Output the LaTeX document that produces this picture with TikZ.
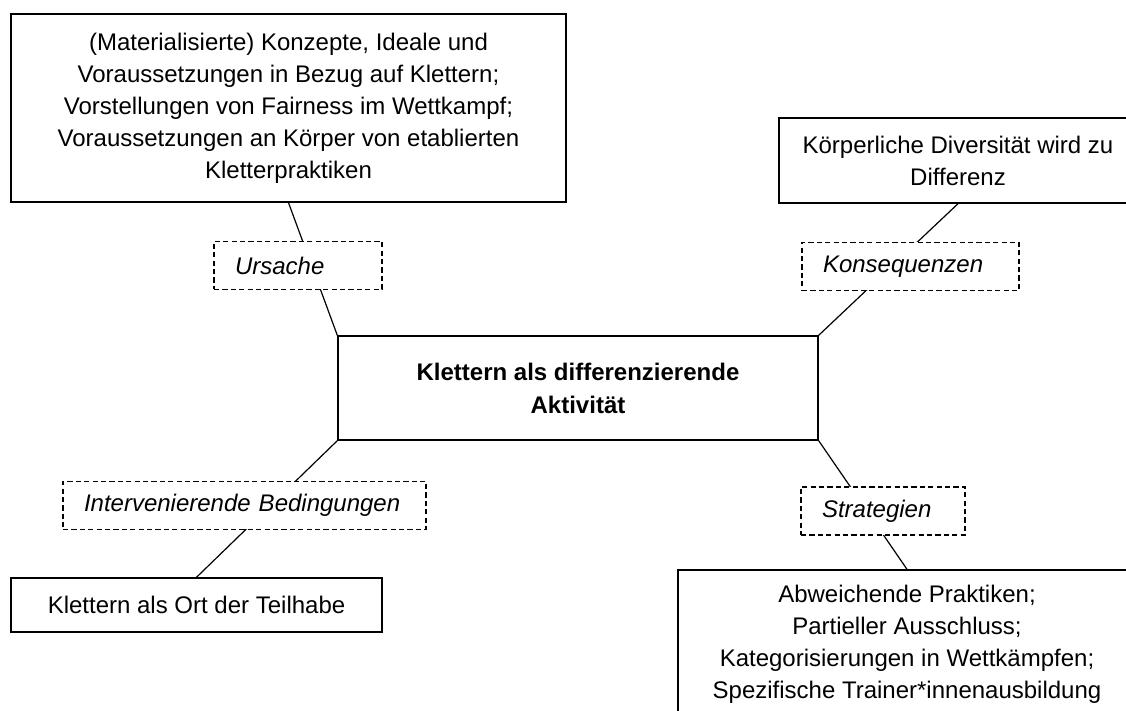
\documentclass[tikz,border=0pt]{standalone}
\usepackage{fontspec}
\setmainfont{Liberation Sans}
\usepackage{tikz}
\usetikzlibrary{positioning}

\begin{document}
\begin{tikzpicture}[
  x=0.5pt, y=-0.5pt,
  box/.style={draw, line width=0.7pt, align=center, inner sep=0pt, font=\fontsize{12}{16}\selectfont},
  core/.style={box, font=\fontsize{12}{16.5}\selectfont\bfseries},
  cat/.style={draw, dash pattern=on 2.6pt off 1.6pt, line width=0.6pt, fill=white, align=left, inner xsep=10.5pt, inner ysep=0pt, minimum height=24pt, font=\fontsize{12}{16}\selectfont\itshape},
  link/.style={line width=0.6pt}
]
\useasboundingbox (0,0) rectangle (1126,711);

\node[core, minimum width=240pt, minimum height=52pt] (act) at (578,388) {Klettern als differenzierende\\Aktivität};
\node[box, minimum width=277.5pt, minimum height=94pt] (cause) at (288.5,108) {(Materialisierte) Konzepte, Ideale und\\Voraussetzungen in Bezug auf Klettern;\\Vorstellungen von Fairness im Wettkampf;\\Voraussetzungen an Körper von etablierten\\Kletterpraktiken};
\node[box, minimum width=179pt, minimum height=42.5pt] (cons) at (958,160.5) {Körperliche Diversität wird zu\\Differenz};
\node[box, minimum width=185.5pt, minimum height=27pt] (part) at (196.5,605) {Klettern als Ort der Teilhabe};
\node[box, minimum width=229pt, minimum height=74pt] (strat) at (907,644) {Abweichende Praktiken;\\Partieller Ausschluss;\\Kategorisierungen in Wettkämpfen;\\Spezifische Trainer*innenausbildung};

% spokes
\draw[link] (cause.south) -- (act.north west);
\draw[link] (cons.south) -- (act.north east);
\draw[link] (act.south west) -- (part.north);
\draw[link] (act.south east) -- (strat.north);

% dashed labels on top of the spokes
\node[cat, text width=63pt] (ursache) at (298,265.5) {Ursache};
\node[cat, text width=87.5pt] (folgen) at (910.5,266.5) {Konsequenzen};
\node[cat, text width=160.5pt] (bedingung) at (244.5,505.5) {Intervenierende Bedingungen};
\node[cat, text width=61pt] (strategie) at (883,511) {Strategien};

\end{tikzpicture}
\end{document}
